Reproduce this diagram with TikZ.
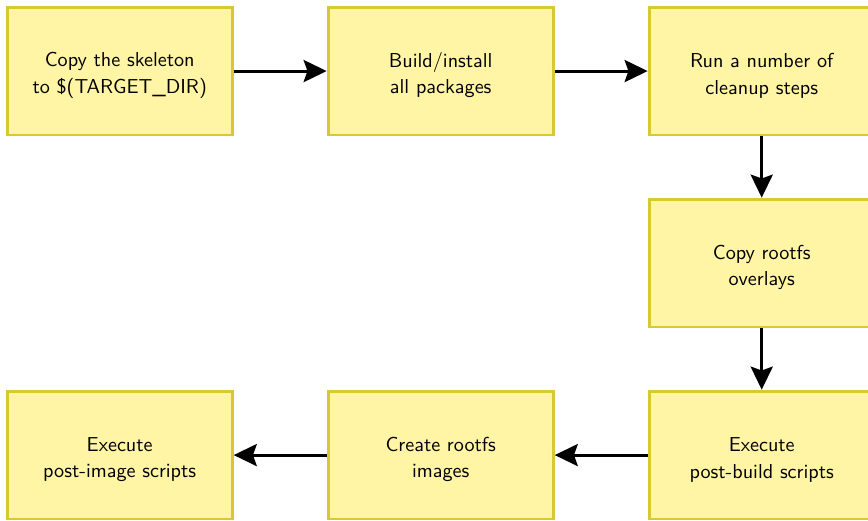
\documentclass[tikz,border=0pt]{standalone}
\usepackage{tikz}
\usetikzlibrary{positioning}
\usetikzlibrary{arrows.meta}
\definecolor{box_fill}{RGB}{255,245,165}
\definecolor{box_line}{RGB}{218,200,50}
\tikzset{
  step_box/.style={rectangle, draw, color=box_line, fill=box_fill, line width = 1.5pt, minimum width = 4.12cm, minimum height = 2.34cm, align = center, text = black, font = \sffamily\fontsize{10.5}{13.9}\selectfont, execute at begin node = {\rule{0pt}{26pt}}},
  arrow_flow/.style={-{Stealth[length=12pt, width=11.5pt, inset=2pt]}, line width = 1.5pt, color = black}}

\begin{document}
\begin{tikzpicture}[node distance = 1.12cm and 1.70cm]

% frame of the picture, first box centred at the origin
\useasboundingbox (-2.19,1.30) rectangle +(15.88,-9.52);

% top row
\node[step_box] at (0,0) (skel) {Copy the skeleton\\to \$(TARGET\_DIR)};
\node[step_box, right = of skel] (build) {Build/install\\all packages};
\node[step_box, right = of build] (clean) {Run a number of\\cleanup steps};

% right column
\node[step_box, below = of clean] (overlay) {Copy rootfs\\overlays};
\node[step_box, below = of overlay] (postbuild) {Execute\\post-build scripts};

% bottom row
\node[step_box, left = of postbuild] (images) {Create rootfs\\images};
\node[step_box, left = of images] (postimage) {Execute\\post-image scripts};

\draw[arrow_flow] (skel) -- (build);
\draw[arrow_flow] (build) -- (clean);
\draw[arrow_flow] (clean) -- (overlay);
\draw[arrow_flow] (overlay) -- (postbuild);
\draw[arrow_flow] (postbuild) -- (images);
\draw[arrow_flow] (images) -- (postimage);

\end{tikzpicture}
\end{document}
